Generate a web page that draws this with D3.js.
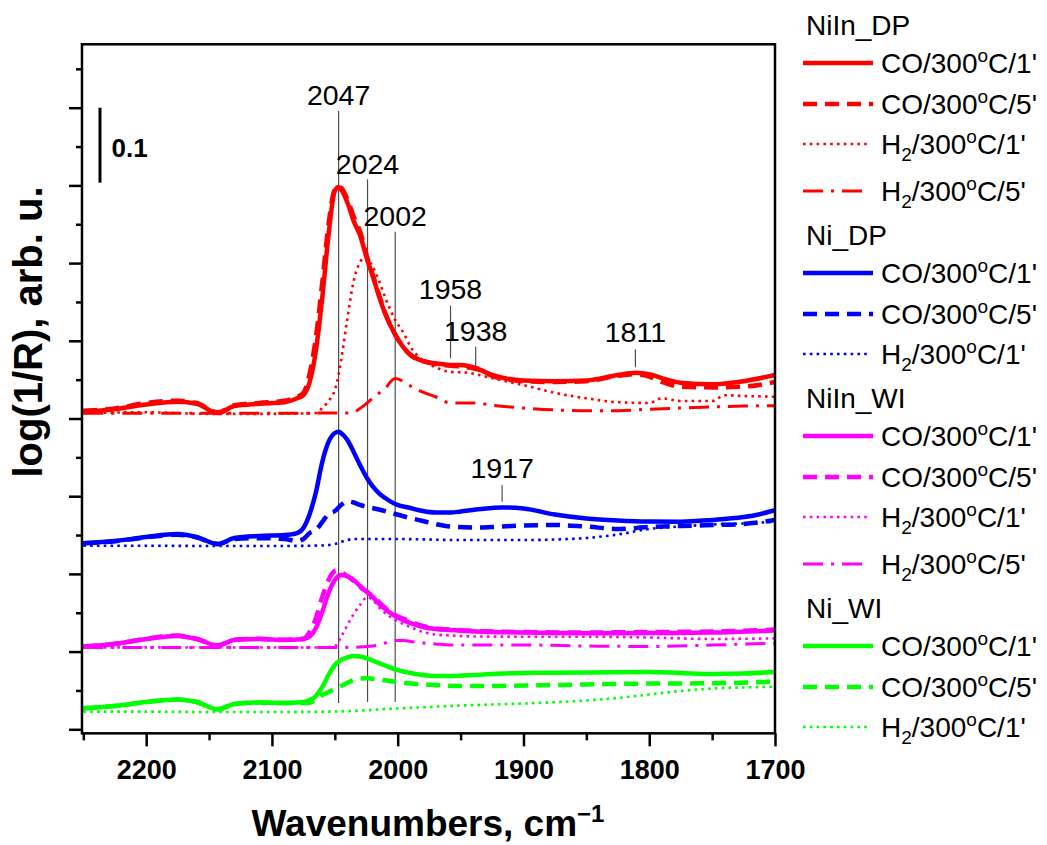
<!DOCTYPE html>
<html><head><meta charset="utf-8">
<script src="https://cdn.jsdelivr.net/npm/d3@7"></script>
<style>
body{margin:0;background:#fff}
svg{display:block}
text{font-family:'Liberation Sans',Arial,Helvetica,sans-serif;fill:#000}
</style>
</head><body>
<svg id="chart" width="1047" height="845"></svg>
<script>
// ---------------- DATA ----------------
const groups = ["NiIn_DP", "Ni_DP", "NiIn_WI", "Ni_WI"];
const groupColors = ["#ff0000", "#0000ff", "#ff00ff", "#00ff00"];
const conditions = ["CO/300°C/1'", "CO/300°C/5'", "H2/300°C/1'", "H2/300°C/5'"];
const styleKeys = ["solid", "dash", "dot", "dashdot"];

const xTicks = [2250, 2200, 2150, 2100, 2050, 2000, 1950, 1900, 1850, 1800, 1750, 1700];
const xTickLabels = ["2200", "2100", "2000", "1900", "1800", "1700"];
const yTicks = [0, 0.05, 0.1, 0.15, 0.2, 0.25, 0.3, 0.35, 0.4, 0.45, 0.5, 0.55, 0.6, 0.65, 0.7, 0.75, 0.8, 0.85];

// NiIn_DP (red)
const niInDP_CO1 = [[2250,.409],[2225,.412],[2200,.418],[2175,.4216],[2160,.419],[2143,.407],[2130,.416],[2110,.419],[2090,.421],[2080,.426],[2075,.430],[2070,.447],[2065,.488],[2060,.555],[2055,.636],[2050,.693],[2047,.698],[2045,.695],[2040,.678],[2035,.654],[2030,.636],[2024,.603],[2020,.584],[2015,.558],[2010,.535],[2002,.508],[1990,.482],[1980,.474],[1970,.471],[1958,.469],[1950,.469],[1938,.465],[1925,.456],[1900,.449],[1875,.448],[1850,.449],[1825,.456],[1811,.459],[1800,.457],[1790,.452],[1775,.446],[1750,.444],[1725,.448],[1700,.456]];
const niInDP_CO5 = [[2250,.410],[2225,.413],[2200,.420],[2175,.423],[2160,.420],[2143,.408],[2130,.417],[2110,.420],[2090,.423],[2080,.428],[2075,.433],[2070,.458],[2065,.505],[2060,.575],[2055,.650],[2050,.695],[2047,.699],[2045,.697],[2040,.682],[2035,.660],[2030,.641],[2024,.606],[2020,.586],[2015,.560],[2010,.536],[2002,.508],[1990,.482],[1980,.474],[1970,.470],[1958,.468],[1938,.464],[1925,.455],[1900,.448],[1875,.447],[1850,.448],[1825,.455],[1811,.457],[1800,.454],[1790,.447],[1775,.441],[1750,.440],[1725,.441],[1700,.447]];
const niInDP_H21 = [[2250,.407],[2200,.408],[2150,.406],[2100,.406],[2065,.407],[2060,.4135],[2055,.4225],[2050,.4367],[2047,.456],[2045,.475],[2040,.529],[2035,.577],[2030,.601],[2027,.607],[2024,.605],[2020,.596],[2015,.578],[2010,.556],[2002,.527],[1995,.509],[1990,.493],[1980,.475],[1970,.466],[1958,.460],[1945,.459],[1938,.457],[1925,.452],[1900,.443],[1875,.433],[1850,.426],[1825,.421],[1800,.420],[1790,.426],[1775,.4225],[1750,.4225],[1740,.430],[1725,.429],[1700,.428]];
const niInDP_H25 = [[2250,.4067],[2200,.4067],[2150,.4067],[2100,.4067],[2050,.407],[2040,.407],[2035,.408],[2030,.413],[2020,.426],[2010,.439],[2002,.4515],[1990,.442],[1980,.434],[1970,.428],[1958,.420],[1938,.420],[1925,.417],[1900,.4135],[1875,.411],[1850,.410],[1825,.410],[1800,.412],[1775,.4135],[1750,.415],[1725,.416],[1700,.4165]];

// Ni_DP (blue)
const niDP_CO1 = [[2250,.2394],[2225,.2423],[2200,.2475],[2175,.2513],[2160,.2475],[2143,.2385],[2130,.2462],[2110,.2488],[2090,.2500],[2080,.2526],[2075,.2591],[2070,.2771],[2065,.3054],[2060,.3440],[2055,.3698],[2050,.3813],[2047,.3830],[2045,.3813],[2040,.3723],[2035,.3569],[2030,.3402],[2024,.3221],[2020,.3131],[2015,.3041],[2010,.2977],[2002,.2900],[1990,.2848],[1980,.2809],[1970,.2790],[1958,.2790],[1950,.2803],[1938,.2829],[1925,.2848],[1917,.2855],[1900,.2842],[1875,.2764],[1850,.2713],[1825,.2687],[1800,.2674],[1775,.2672],[1750,.2694],[1725,.2732],[1715,.2758],[1700,.2822]];
const niDP_CO5 = [[2250,.2394],[2225,.2420],[2200,.2470],[2175,.2505],[2160,.2470],[2143,.2385],[2130,.2450],[2110,.2460],[2090,.2449],[2080,.2423],[2075,.2449],[2070,.2526],[2065,.2565],[2060,.2668],[2055,.2771],[2050,.2809],[2045,.2887],[2040,.2932],[2035,.2919],[2030,.2887],[2024,.2861],[2015,.2829],[2002,.2771],[1990,.2719],[1980,.2681],[1970,.2642],[1958,.2610],[1938,.2597],[1925,.2604],[1900,.2623],[1875,.2629],[1850,.2610],[1825,.2578],[1800,.2604],[1775,.2616],[1750,.2629],[1725,.2642],[1700,.2694]];
const niDP_H21 = [[2250,.2363],[2200,.2363],[2150,.2359],[2100,.2359],[2060,.2366],[2050,.2385],[2045,.2411],[2040,.2436],[2035,.2449],[2000,.2449],[1950,.2436],[1900,.2436],[1875,.2443],[1850,.2462],[1825,.2507],[1800,.2578],[1775,.2610],[1750,.2636],[1725,.2649],[1700,.2672]];

// NiIn_WI (magenta)
const niInWI_CO1 = [[2250,.1063],[2225,.1098],[2200,.1162],[2175,.1201],[2160,.1162],[2143,.1079],[2130,.1149],[2110,.1162],[2090,.1149],[2075,.1162],[2070,.1194],[2065,.1304],[2060,.1510],[2055,.1754],[2050,.1922],[2045,.1986],[2040,.1967],[2035,.1922],[2030,.1844],[2024,.1761],[2020,.1703],[2015,.1619],[2010,.1548],[2002,.1458],[1990,.1368],[1980,.1317],[1970,.1291],[1958,.1278],[1938,.1259],[1900,.1246],[1850,.1236],[1800,.1239],[1750,.1246],[1700,.1272]];
const niInWI_CO5 = [[2250,.1066],[2225,.1100],[2200,.1166],[2175,.1206],[2160,.1166],[2143,.1082],[2130,.1152],[2110,.1166],[2090,.1152],[2075,.1166],[2070,.1252],[2065,.1432],[2060,.1703],[2055,.1922],[2050,.2037],[2047,.2044],[2045,.2024],[2040,.1973],[2035,.1909],[2030,.1832],[2024,.1767],[2020,.1716],[2015,.1638],[2010,.1561],[2002,.1471],[1990,.1387],[1980,.1329],[1970,.1297],[1958,.1284],[1938,.1265],[1900,.1252],[1850,.1246],[1800,.1252],[1750,.1259],[1700,.1284]];
const niInWI_H21 = [[2250,.1055],[2200,.1055],[2150,.1053],[2100,.1053],[2060,.1053],[2050,.1072],[2045,.1188],[2040,.1342],[2035,.1484],[2030,.1600],[2024,.1703],[2020,.1664],[2015,.1574],[2010,.1497],[2002,.1407],[1990,.1317],[1980,.1252],[1970,.1220],[1958,.1207],[1938,.1194],[1900,.1192],[1850,.1192],[1800,.1181],[1750,.1162],[1700,.1171]];
const niInWI_H25 = [[2250,.1055],[2200,.1053],[2150,.1053],[2100,.1053],[2050,.1053],[2030,.1059],[2020,.1072],[2010,.1111],[2002,.1143],[1995,.1143],[1990,.1130],[1980,.1111],[1970,.1098],[1958,.1085],[1900,.1085],[1850,.1072],[1800,.1066],[1750,.1085],[1700,.1107]];

// Ni_WI (green)
const niWI_CO1 = [[2250,.0270],[2225,.0300],[2200,.0351],[2175,.0384],[2160,.0351],[2143,.0257],[2130,.0326],[2110,.0345],[2090,.0338],[2075,.0351],[2070,.0377],[2065,.0429],[2060,.0544],[2055,.0699],[2050,.0828],[2045,.0892],[2040,.0924],[2035,.0943],[2030,.0937],[2024,.0911],[2020,.0885],[2010,.0821],[2002,.0770],[1990,.0725],[1980,.0699],[1970,.0686],[1958,.0686],[1938,.0699],[1917,.0718],[1900,.0725],[1875,.0728],[1850,.0731],[1825,.0734],[1800,.0737],[1775,.0725],[1750,.0712],[1725,.0718],[1700,.0737]];
const niWI_CO5 = [[2250,.0270],[2225,.0300],[2200,.0351],[2175,.0384],[2160,.0351],[2143,.0257],[2130,.0326],[2110,.0345],[2090,.0338],[2075,.0338],[2070,.0342],[2065,.0384],[2060,.0441],[2055,.0480],[2050,.0519],[2045,.0557],[2040,.0600],[2035,.0634],[2030,.0654],[2024,.0656],[2015,.0641],[2002,.0613],[1990,.0589],[1970,.0570],[1950,.0557],[1925,.0557],[1900,.0564],[1850,.0577],[1800,.0589],[1750,.0592],[1700,.0613]];
const niWI_H21 = [[2250,.0227],[2200,.0227],[2150,.0223],[2100,.0223],[2050,.0229],[2000,.0268],[1950,.0306],[1900,.0332],[1850,.0371],[1825,.0403],[1800,.0448],[1775,.0493],[1750,.0525],[1725,.0538],[1700,.0548]];

const seriesByGroup = [
  [niInDP_CO1, niInDP_CO5, niInDP_H21, niInDP_H25],
  [niDP_CO1, niDP_CO5, niDP_H21],
  [niInWI_CO1, niInWI_CO5, niInWI_H21, niInWI_H25],
  [niWI_CO1, niWI_CO5, niWI_H21]
];

// peak annotations: wavenumber, label level, line top, line bottom (data units)
const peakWavenumbers = [2047, 2024, 2002, 1958, 1938, 1811, 1917];
const peakLabelLevel  = [0.8035, 0.7143, 0.6481, 0.5534, 0.4997, 0.4988, 0.3230];
const peakLineTop     = [0.7958, 0.7079, 0.6404, 0.5452, 0.4924, 0.4891, 0.3144];
const peakLineBottom  = [0.0338, 0.0351, 0.0351, 0.4775, 0.4676, 0.4659, 0.2929];

// ---------------- CHART ----------------
(function () {
const svg = d3.select("#chart");
const FONT = "'Liberation Sans',Arial,Helvetica,sans-serif";

const x = d3.scaleLinear().domain([2250, 1700]).range([83.3, 775]);
const y = d3.scaleLinear().domain([0, 0.8]).range([729.3, 107.7]);

const pL = x(2251.05), pR = x(1700), pT = y(0.8816), pB = y(-0.0052);

const styles = {
  solid:   {w: 4.5, dash: null},
  dash:    {w: 4.5, dash: "14,8"},
  dot:     {w: 2.6, dash: "2.6,4.2"},
  dashdot: {w: 3,   dash: "20,8,3,8"}
};

const line = d3.line().x(d => x(d[0])).y(d => y(d[1])).curve(d3.curveMonotoneX);

svg.append("defs").append("clipPath").attr("id", "clip")
  .append("rect").attr("x", pL).attr("y", pT).attr("width", pR - pL).attr("height", pB - pT);

// annotation lines and labels
const ann = svg.append("g");
peakWavenumbers.forEach((w, i) => {
  ann.append("line")
    .attr("x1", x(w)).attr("x2", x(w))
    .attr("y1", y(peakLineTop[i])).attr("y2", y(peakLineBottom[i]))
    .attr("stroke", "#4d4d4d").attr("stroke-width", 1.2);
  ann.append("text")
    .attr("x", x(w)).attr("y", y(peakLabelLevel[i]))
    .attr("text-anchor", "middle")
    .style("font-size", "28.5px")
    .text(String(w));
});

const plot = svg.append("g").attr("clip-path", "url(#clip)");
seriesByGroup.forEach((list, gi) => {
  list.forEach((data, si) => {
    const st = styles[styleKeys[si]];
    plot.append("path")
      .datum(data)
      .attr("d", line)
      .attr("fill", "none")
      .attr("stroke", groupColors[gi])
      .attr("stroke-width", st.w)
      .attr("stroke-dasharray", st.dash)
      .attr("stroke-linejoin", "round");
  });
});

// frame
svg.append("rect")
  .attr("x", pL).attr("y", pT).attr("width", pR - pL).attr("height", pB - pT)
  .attr("fill", "none").attr("stroke", "#000").attr("stroke-width", 2.5);

// x axis ticks
const majorX = xTicks.filter(v => v % 100 === 0);
const minorX = xTicks.filter(v => v % 100 !== 0);
const xAxisG = svg.append("g").attr("transform", `translate(0,${pB})`);
xAxisG.append("g").call(d3.axisBottom(x).tickValues(minorX).tickSize(7).tickFormat(""));
xAxisG.append("g").call(d3.axisBottom(x).tickValues(majorX).tickSize(13).tickPadding(14)
  .tickFormat((d, i) => xTickLabels[i]));
xAxisG.selectAll(".domain").remove();
xAxisG.selectAll("line").attr("stroke", "#000").attr("stroke-width", 2.5);
xAxisG.selectAll("text").style("font-family", FONT).style("font-size", "27px").style("font-weight", "bold").attr("fill", "#000");

// y axis ticks (no labels)
const majorY = yTicks.filter((v, i) => i % 2 === 0);
const minorY = yTicks.filter((v, i) => i % 2 === 1);
const yAxisG = svg.append("g").attr("transform", `translate(${pL},0)`);
yAxisG.append("g").call(d3.axisLeft(y).tickValues(minorY).tickSize(6).tickFormat(""));
yAxisG.append("g").call(d3.axisLeft(y).tickValues(majorY).tickSize(13).tickFormat(""));
yAxisG.selectAll(".domain").remove();
yAxisG.selectAll("line").attr("stroke", "#000").attr("stroke-width", 2.5);

// scale bar
svg.append("line")
  .attr("x1", pL + 18).attr("x2", pL + 18)
  .attr("y1", y(0.8)).attr("y2", y(0.8) + 75)
  .attr("stroke", "#000").attr("stroke-width", 3);
svg.append("text").attr("x", pL + 29.5).attr("y", y(0.8) + 49)
  .style("font-size", "26px").style("font-weight", "bold").text("0.1");

// axis titles
const xt = svg.append("text").attr("x", 428).attr("y", 836).attr("text-anchor", "middle")
  .style("font-size", "37px").style("font-weight", "bold");
xt.append("tspan").text("Wavenumbers, cm");
xt.append("tspan").attr("dy", -14).style("font-size", "24px").text("\u22121");

svg.append("text")
  .attr("transform", "translate(42,332) rotate(-90)")
  .attr("text-anchor", "middle")
  .style("font-size", "40px").style("font-weight", "bold")
  .text("log(1/R), arb. u.");

// legend
const legend = svg.append("g");
let cy = 35;
const sampleEnd = {solid: 873, dash: 873, dot: 868, dashdot: 868};
seriesByGroup.forEach((list, gi) => {
  legend.append("text").attr("x", 806).attr("y", cy).style("font-size", "28px").text(groups[gi]);
  let ry = cy + 28;
  list.forEach((data, si) => {
    if (si === 1) ry += 41;
    if (si === 2) ry += 40;
    if (si === 3) ry += 47;
    const key = styleKeys[si];
    const st = styles[key];
    legend.append("line")
      .attr("x1", 803).attr("x2", sampleEnd[key])
      .attr("y1", ry).attr("y2", ry)
      .attr("stroke", groupColors[gi])
      .attr("stroke-width", st.w)
      .attr("stroke-dasharray", st.dash);
    const cond = conditions[si];
    const t = legend.append("text").attr("x", 881).attr("y", ry + 10).style("font-size", "28px");
    const isH2 = cond.startsWith("H2");
    const parts = cond.split("°");
    if (isH2) {
      t.append("tspan").text("H");
      t.append("tspan").attr("dy", 7).style("font-size", "19px").text("2");
      t.append("tspan").attr("dy", -7).text(parts[0].slice(2));
    } else {
      t.append("tspan").text(parts[0]);
    }
    t.append("tspan").attr("dy", -11).style("font-size", "19px").text("o");
    t.append("tspan").attr("dy", 11).text(parts[1]);
  });
  cy = ry + 54;
});
})();
</script>
</body></html>
